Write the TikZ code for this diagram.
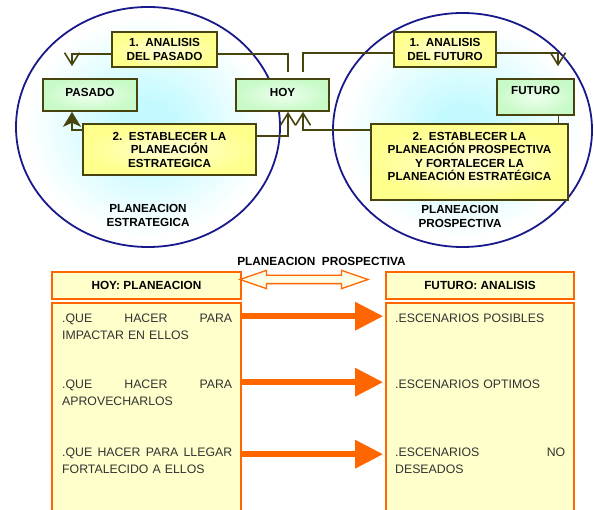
\documentclass[tikz,border=0pt]{standalone}
\usepackage{fontspec}
\setmainfont{Liberation Sans}
\usetikzlibrary{arrows.meta,shapes.arrows,shapes.geometric,calc}
\definecolor{navyc}{RGB}{25,25,140}
\definecolor{olivec}{RGB}{72,68,16}
\definecolor{yin}{RGB}{255,255,215}
\definecolor{yout}{RGB}{255,255,140}
\definecolor{gin}{RGB}{238,255,238}
\definecolor{gout}{RGB}{200,250,200}
\definecolor{orangec}{RGB}{255,102,0}
\definecolor{lyc}{RGB}{255,255,204}
\definecolor{dac}{RGB}{255,255,232}
\definecolor{ellc}{RGB}{195,250,255}
\definecolor{textc}{RGB}{50,50,50}
\pgfdeclareradialshading{ellshade}{\pgfpoint{0bp}{0bp}}{color(0bp)=(ellc); color(5bp)=(ellc); color(23bp)=(white); color(50bp)=(white)}
\begin{document}
\begin{tikzpicture}[x=1pt,y=-1pt,
  ellbox/.style={ellipse, draw=navyc, line width=1.8pt, shade, shading=ellshade, inner sep=0pt},
  ybox/.style={draw=olivec, line width=1.6pt, inner color=yin, outer color=yout, align=center, inner sep=0pt,
    font=\bfseries\fontsize{11.7}{13.5}\selectfont},
  gbox/.style={draw=olivec, line width=1.6pt, inner color=gin, outer color=gout, align=center, inner sep=0pt,
    font=\bfseries\fontsize{11.7}{13.5}\selectfont},
  lbl/.style={align=center, inner sep=0pt, font=\bfseries\fontsize{11.7}{14}\selectfont},
  conn/.style={draw=olivec, line width=1.6pt},
  barb/.style={-{Straight Barb[length=12pt,width=15pt]}},
  obox/.style={draw=orangec, line width=1.6pt, fill=lyc, inner sep=0pt, font=\bfseries\fontsize{11.8}{14}\selectfont},
  bigbox/.style={draw=orangec, line width=1.6pt, fill=lyc, inner sep=0pt},
  bodytxt/.style={anchor=north west, inner sep=0pt, text width=170pt, align=left, text=textc,
    font=\fontsize{12.3}{17}\selectfont},
  oarr/.style={draw=orangec, line width=6pt, -{Triangle[length=28pt,width=27pt]}}
]
\useasboundingbox (0,0) rectangle (594,510);
\clip (0,0) rectangle (594,510);
\fill[white] (0,0) rectangle (594,510);

% ellipses
\node[ellbox, minimum width=264pt, minimum height=240pt] (eL) at (148,127) {};
\node[ellbox, minimum width=259pt, minimum height=234pt] (eR) at (462.5,130) {};

% boxes
\node[ybox, minimum width=105pt, minimum height=35pt] (a1) at (164.5,49.5) {1.\ \ ANALISIS\\DEL PASADO};
\node[gbox, minimum width=94pt, minimum height=32pt, text depth=6pt] (pasado) at (90,95) {PASADO};
\node[gbox, minimum width=93pt, minimum height=32pt, text depth=6pt] (hoy) at (282.5,95) {HOY};
\node[ybox, minimum width=173pt, minimum height=51pt] (b2) at (169.5,149.5) {2.\ \ ESTABLECER LA\\PLANEACIÓN\\ESTRATEGICA};
\node[ybox, minimum width=102pt, minimum height=35pt] (a1f) at (445,49.5) {1.\ \ ANALISIS\\DEL FUTURO};
\node[gbox, minimum width=77pt, minimum height=36pt, text depth=14pt] (futuro) at (535.5,97) {FUTURO};
\node[ybox, minimum width=197pt, minimum height=76pt, text depth=11pt] (b2f) at (469.5,162) {2.\ \ ESTABLECER LA\\PLANEACIÓN PROSPECTIVA\\Y FORTALECER LA\\PLANEACIÓN ESTRATÉGICA};

\node[lbl] (lE) at (148,215) {PLANEACION\\ESTRATEGICA};
\node[lbl] (lP) at (460,216.5) {PLANEACION\\PROSPECTIVA};

% connectors
\draw[conn] ([xshift=5.5pt,yshift=6pt]hoy.north) |- ([yshift=-4.5pt]a1.east);
\draw[conn,barb] ([yshift=-4.5pt]a1.west) -| ([xshift=-18pt,yshift=12pt]pasado.north);
\draw[conn] ([xshift=20.5pt,yshift=6pt]hoy.north) |- ([yshift=-3.5pt]a1f.west);
\draw[conn,barb] ([yshift=-3.5pt]a1f.east) -| ([xshift=22.5pt,yshift=12pt]futuro.north);
\draw[conn,-{Stealth[length=15pt,width=18pt,inset=4pt]}] ([yshift=19.5pt]b2.west) -| ([xshift=-18pt]pasado.south);
\draw[conn,barb] ([yshift=13.5pt]b2.east) -| ([xshift=5.5pt]hoy.south);
\draw[conn,barb] ([yshift=32pt]b2f.west) -| ([xshift=20.5pt]hoy.south);
\draw[conn] ([xshift=23pt]futuro.south) -- ([xshift=23pt]futuro.south |- b2f.north);

% bottom part
\node[lbl, font=\bfseries\fontsize{11.8}{14}\selectfont] (pp) at (321.5,261) {PLANEACION\ \ PROSPECTIVA};
\node[obox, minimum width=189pt, minimum height=27pt] (hoyh) at (146.5,285.5) {HOY: PLANEACION};
\node[obox, minimum width=188pt, minimum height=27pt] (futh) at (480,285.5) {FUTURO: ANALISIS};
\node[double arrow, draw=orangec, line width=1.3pt, fill=dac, minimum height=128pt,
      inner xsep=0pt, inner ysep=3.5pt, double arrow head extend=5pt, double arrow tip angle=38] (darr) at (304,279.5) {};

\node[bigbox, minimum width=189pt, minimum height=222pt] (leftbox) at (146.5,414) {};
\node[bigbox, minimum width=188pt, minimum height=222pt] (rightbox) at (480,414) {};

\node[bodytxt] (q1) at (62,313.5) {.QUE\hfill HACER\hfill PARA\\IMPACTAR EN ELLOS};
\node[bodytxt] (q2) at (62,379.5) {.QUE\hfill HACER\hfill PARA\\APROVECHARLOS};
\node[bodytxt] (q3) at (62,447.5) {.QUE\hfill HACER\hfill PARA\hfill LLEGAR\\FORTALECIDO A ELLOS};
\node[bodytxt] (s1) at (395,313.5) {.ESCENARIOS POSIBLES};
\node[bodytxt] (s2) at (395,379.5) {.ESCENARIOS OPTIMOS};
\node[bodytxt] (s3) at (395,447.5) {.ESCENARIOS\hfill NO\\DESEADOS};

\draw[oarr] ([yshift=-14pt]leftbox.north east) -- ([yshift=-14pt,xshift=-2pt]rightbox.north west);
\draw[oarr] ([yshift=-80pt]leftbox.north east) -- ([yshift=-80pt,xshift=-2pt]rightbox.north west);
\draw[oarr] ([yshift=-152pt]leftbox.north east) -- ([yshift=-152pt,xshift=-2pt]rightbox.north west);
\end{tikzpicture}
\end{document}
